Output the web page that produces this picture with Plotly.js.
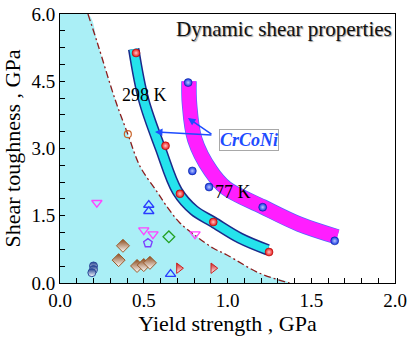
<!DOCTYPE html>
<html>
<head>
<meta charset="utf-8">
<script src="https://cdn.plot.ly/plotly-3.0.1.min.js"></script>
<style>
  html, body { margin: 0; padding: 0; background: #fff; }
  #chart { width: 412px; height: 338px; }
</style>
</head>
<body>
<div id="chart"></div>
<script>
// Boundary of the conventional-alloy envelope (dash-dot line)
const boundaryX = [0.167, 0.227, 0.33, 0.405, 0.478, 0.58, 0.645, 0.716, 0.818, 0.913, 0.997, 1.19, 1.37];
const boundaryY = [6.0, 5.31, 4.08, 3.32, 2.60, 2.03, 1.67, 1.34, 1.03, 0.78, 0.625, 0.22, 0.0];

// CrCoNi trend bands (centre lines)
const band298X = [0.44, 0.50, 0.60, 0.70, 0.80, 0.915, 1.075, 1.24];
const band298Y = [5.22, 4.08, 3.00, 2.05, 1.62, 1.36, 1.00, 0.74];
const band77X = [0.77, 0.773, 0.805, 0.900, 0.99, 1.21, 1.43, 1.655];
const band77Y = [4.50, 4.00, 3.20, 2.50, 2.12, 1.70, 1.31, 1.03];

// CrCoNi measurements
const crconi298X = [0.454, 0.63, 0.716, 0.915, 1.248];
const crconi298Y = [5.13, 3.06, 1.99, 1.36, 0.69];
const crconi77X = [0.765, 0.79, 0.89, 1.21, 1.64];
const crconi77Y = [4.47, 2.50, 2.14, 1.69, 0.94];

// Other alloys
const openCircleX = [0.405];
const openCircleY = [3.32];
const downTriX = [0.22, 0.50, 0.555, 0.806];
const downTriY = [1.79, 1.18, 1.09, 1.09];
const upTriX = [0.53, 0.53, 0.66];
const upTriY = [1.74, 1.60, 0.20];
const pentagonX = [0.525];
const pentagonY = [0.89];
const diamondGreenX = [0.65];
const diamondGreenY = [1.03];
const diamondBrownX = [0.376, 0.35, 0.46, 0.50, 0.537];
const diamondBrownY = [0.83, 0.51, 0.38, 0.40, 0.45];
const circleNavyX = [0.20, 0.20, 0.19];
const circleNavyY = [0.38, 0.30, 0.23];
const flagRedX = [0.71, 0.915];
const flagRedY = [0.33, 0.33];

const X_RANGE = [0, 2];
const Y_RANGE = [0, 6];
const M = { l: 60, r: 17, t: 14, b: 55 };
const W = 412, H = 338;

const serif = 'Liberation Serif, Times New Roman, serif';
const traces = [];

// Envelope fill
traces.push({
  x: [0].concat(boundaryX, [0]),
  y: [Y_RANGE[1]].concat(boundaryY, [0]),
  mode: 'lines', fill: 'toself', fillcolor: '#aaeff6',
  line: { width: 0, shape: 'spline' }, hoverinfo: 'skip', showlegend: false
});
traces.push({
  x: boundaryX, y: boundaryY, mode: 'lines',
  line: { color: '#8b1c1c', width: 1.3, dash: '7px,3px,2px,3px', shape: 'spline' },
  showlegend: false
});

// Bands drawn as a wide stroke over a slightly wider edge stroke
function band(x, y, edgeColor, edgeWidth, fillColor, fillWidth) {
  traces.push({ x, y, mode: 'lines', line: { color: edgeColor, width: edgeWidth, shape: 'spline', smoothing: 1 }, showlegend: false });
  traces.push({ x, y, mode: 'lines', line: { color: fillColor, width: fillWidth, shape: 'spline', smoothing: 1 }, showlegend: false });
}
band(band77X, band77Y, '#5566ff', 15.5, '#ff1eff', 14);
band(band298X, band298Y, '#1b2a8a', 11.5, '#25e3ec', 8.5);

function pts(x, y, marker) {
  return { x, y, mode: 'markers', marker, showlegend: false, cliponaxis: false };
}

// Half-filled symbols: solid colour on top fading to white below
traces.push(pts(openCircleX, openCircleY, { symbol: 'circle-open', size: 7, color: '#c8642a', line: { width: 1.2 } }));
traces.push(pts(downTriX, downTriY, { symbol: 'triangle-down-open', size: 9, color: '#ff44ff', line: { width: 1.3 } }));
traces.push(pts(upTriX, upTriY, { symbol: 'triangle-up-open', size: 9, color: '#2a3cff', line: { width: 1.3 } }));
traces.push(pts(pentagonX, pentagonY, { symbol: 'pentagon-open', size: 9, color: '#7b3cff', line: { width: 1.3 } }));
traces.push(pts(diamondGreenX, diamondGreenY, { symbol: 'diamond-open', size: 9, color: '#22a022', line: { width: 1.3 } }));
traces.push(pts(diamondBrownX, diamondBrownY, {
  symbol: 'diamond', size: 10, color: '#8b4a1c',
  gradient: { type: 'vertical', color: '#ffffff' },
  line: { width: 1, color: '#9a5a2a' }
}));
traces.push(pts(circleNavyX, circleNavyY, {
  symbol: 'circle', size: 8, color: '#1f3f8f',
  gradient: { type: 'vertical', color: '#ffffff' },
  line: { width: 1, color: '#2a4a9a' }
}));
traces.push(pts(flagRedX, flagRedY, {
  symbol: 'triangle-right', size: 9, color: '#cc1a1a',
  gradient: { type: 'vertical', color: '#ffffff' },
  line: { width: 1, color: '#cc2222' }
}));

// CrCoNi points
traces.push(pts(crconi298X, crconi298Y, {
  symbol: 'circle', size: 8, color: '#e81010',
  gradient: { type: 'radial', color: '#ffc8c8' },
  line: { width: 0.5, color: '#a00000' }
}));
traces.push(pts(crconi77X, crconi77Y, {
  symbol: 'circle', size: 8, color: '#1030e0',
  gradient: { type: 'radial', color: '#b8c8ff' },
  line: { width: 0.5, color: '#001a90' }
}));

const arrowStart = { x: 0.913, y: 3.30 };
const arrowEnds = [{ x: 0.567, y: 3.37 }, { x: 0.764, y: 3.68 }];

const annotations = [
  {
    xref: 'paper', yref: 'paper', x: 0.998, y: 0.945, xanchor: 'right', yanchor: 'middle',
    text: 'Dynamic shear properties', showarrow: false,
    font: { family: serif, size: 21, color: '#111', shadow: '1px 1px 1px #9a9a9a' }
  },
  {
    x: 0.507, y: 4.19, text: '298 K', showarrow: false,
    font: { family: serif, size: 18, color: '#000' }
  },
  {
    x: 1.035, y: 2.03, text: '77 K', showarrow: false,
    font: { family: serif, size: 18, color: '#000' }
  },
  {
    x: 1.13, y: 3.19, text: '<b><i>CrCoNi</i></b>', showarrow: false,
    font: { family: serif, size: 18, color: '#1e4cff' },
    bgcolor: '#ffffff', bordercolor: '#a8a8a8', borderwidth: 1, borderpad: 0
  }
];
arrowEnds.forEach(e => annotations.push({
  x: e.x, y: e.y, ax: arrowStart.x, ay: arrowStart.y, axref: 'x', ayref: 'y',
  text: '', showarrow: true, arrowhead: 2, arrowsize: 1, arrowwidth: 1.5, arrowcolor: '#1e4cff'
}));

const layout = {
  width: W, height: H,
  margin: M,
  paper_bgcolor: '#ffffff', plot_bgcolor: '#ffffff',
  font: { family: serif, color: '#000' },
  showlegend: false,
  xaxis: {
    range: X_RANGE, dtick: 0.5, tick0: 0, tickformat: '.1f',
    ticks: 'inside', ticklen: 5, tickwidth: 1, tickcolor: '#000',
    minor: { dtick: 0.1, ticks: 'inside', ticklen: 5, tickcolor: '#000', showgrid: false },
    showgrid: false, zeroline: false, showline: true, linecolor: '#000', linewidth: 1, mirror: true,
    tickfont: { family: serif, size: 19, color: '#000' },
    title: { text: 'Yield strength , GPa', font: { family: serif, size: 22, color: '#000' }, standoff: 2 }
  },
  yaxis: {
    range: Y_RANGE, dtick: 1.5, tick0: 0, tickformat: '.1f',
    ticks: 'inside', ticklen: 5, tickwidth: 1, tickcolor: '#000',
    minor: { dtick: 0.375, ticks: 'inside', ticklen: 5, tickcolor: '#000', showgrid: false },
    showgrid: false, zeroline: false, showline: true, linecolor: '#000', linewidth: 1, mirror: true,
    tickfont: { family: serif, size: 19, color: '#000' },
    title: { text: 'Shear toughness , GPa', font: { family: serif, size: 22, color: '#000' }, standoff: 4 }
  },
  annotations
};

Plotly.newPlot('chart', traces, layout, { displayModeBar: false, staticPlot: true });
</script>
</body>
</html>
